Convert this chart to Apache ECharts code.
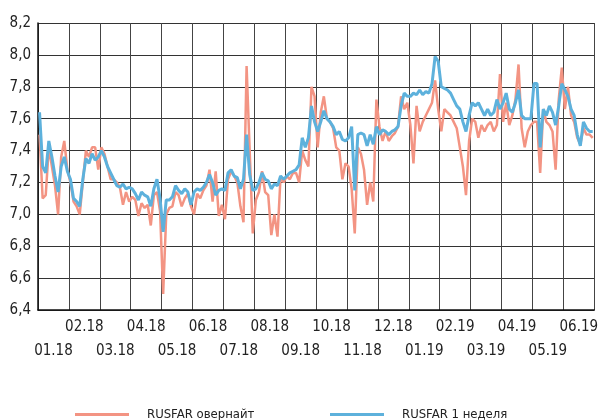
<!DOCTYPE html>
<html>
<head>
<meta charset="utf-8">
<script src="https://cdn.jsdelivr.net/npm/echarts@6/dist/echarts.min.js"></script>
<style>html,body{margin:0;padding:0;background:#fff}#c{width:601px;height:420px}</style>
</head>
<body>
<div id="c"></div>
<script>
var months = ['01.18','02.18','03.18','04.18','05.18','06.18','07.18','08.18','09.18','10.18','11.18','12.18','01.19','02.19','03.19','04.19','05.19','06.19'];
var yTicks = [6.4, 6.6, 6.8, 7.0, 7.2, 7.4, 7.6, 7.8, 8.0, 8.2];
var seriesNames = ['RUSFAR овернайт', 'RUSFAR 1 неделя'];

// RUSFAR overnight, ~10 readings per month
var overnight = [
  7.50, 7.10, 7.12, 7.42, 7.30, 7.18, 7.00, 7.36, 7.46, 7.28,
  7.20, 7.08, 7.05, 7.00, 7.20, 7.40, 7.36, 7.42, 7.42, 7.28,
  7.42, 7.38, 7.30, 7.22, 7.22, 7.20, 7.17, 7.06, 7.14, 7.08,
  7.11, 7.09, 6.99, 7.07, 7.04, 7.06, 6.93, 7.12, 7.14, 7.02,
  6.50, 7.00, 7.04, 7.05, 7.14, 7.12, 7.05, 7.10, 7.13, 7.05,
  7.00, 7.13, 7.10, 7.15, 7.18, 7.28, 7.08, 7.27, 6.99, 7.06,
  6.97, 7.22, 7.27, 7.24, 7.20, 7.05, 6.95, 7.93, 7.40, 6.88,
  7.09, 7.14, 7.27, 7.14, 7.12, 6.87, 7.00, 6.86, 7.24, 7.20,
  7.24, 7.22, 7.26, 7.26, 7.20, 7.40, 7.34, 7.30, 7.80, 7.74,
  7.42, 7.64, 7.74, 7.60, 7.58, 7.54, 7.42, 7.40, 7.22, 7.32,
  7.30, 7.16, 6.88, 7.42, 7.38, 7.28, 7.06, 7.20, 7.08, 7.72,
  7.55, 7.46, 7.52, 7.46, 7.49, 7.51, 7.55, 7.74, 7.66, 7.70,
  7.56, 7.32, 7.68, 7.52, 7.58, 7.62, 7.66, 7.70, 7.84, 7.66,
  7.52, 7.66, 7.64, 7.62, 7.58, 7.54, 7.42, 7.30, 7.12, 7.46,
  7.60, 7.58, 7.48, 7.56, 7.52, 7.56, 7.58, 7.52, 7.56, 7.88,
  7.58, 7.70, 7.56, 7.62, 7.72, 7.94, 7.54, 7.42, 7.52, 7.56,
  7.58, 7.58, 7.26, 7.66, 7.58, 7.56, 7.52, 7.28, 7.72, 7.92,
  7.66, 7.80, 7.62, 7.58, 7.48, 7.44, 7.54, 7.50, 7.50, 7.48
];

// RUSFAR 1 week
var week1 = [
  7.64, 7.30, 7.26, 7.46, 7.36, 7.24, 7.14, 7.30, 7.36, 7.27,
  7.22, 7.10, 7.08, 7.05, 7.22, 7.35, 7.32, 7.38, 7.34, 7.36,
  7.40, 7.36, 7.30, 7.26, 7.22, 7.18, 7.17, 7.19, 7.16, 7.17,
  7.16, 7.13, 7.09, 7.14, 7.12, 7.11, 7.05, 7.16, 7.22, 7.10,
  6.89, 7.09, 7.09, 7.11, 7.18, 7.15, 7.13, 7.16, 7.14, 7.06,
  7.14, 7.16, 7.15, 7.17, 7.20, 7.25, 7.20, 7.12, 7.15, 7.16,
  7.15, 7.26, 7.28, 7.24, 7.23, 7.16, 7.22, 7.50, 7.25, 7.15,
  7.16, 7.20, 7.26, 7.22, 7.21, 7.16, 7.19, 7.18, 7.24, 7.22,
  7.24, 7.26, 7.27, 7.28, 7.31, 7.48, 7.42, 7.48, 7.68, 7.58,
  7.52, 7.58, 7.65, 7.60, 7.58, 7.55, 7.50, 7.52, 7.47, 7.46,
  7.48, 7.55, 7.15, 7.50, 7.51, 7.50, 7.43, 7.50, 7.44, 7.55,
  7.50, 7.53, 7.52, 7.50, 7.52, 7.53, 7.55, 7.68, 7.76, 7.74,
  7.74, 7.76, 7.75, 7.78, 7.75, 7.77, 7.76, 7.82, 7.99, 7.96,
  7.80, 7.79, 7.78, 7.76, 7.72, 7.68, 7.66, 7.58, 7.52, 7.62,
  7.70, 7.68, 7.70, 7.66, 7.62, 7.66, 7.62, 7.64, 7.72, 7.66,
  7.70, 7.76, 7.66, 7.64, 7.70, 7.78, 7.62, 7.60, 7.60, 7.60,
  7.82, 7.82, 7.42, 7.66, 7.62, 7.68, 7.64, 7.56, 7.68, 7.82,
  7.78, 7.74, 7.66, 7.62, 7.50, 7.43, 7.58, 7.54, 7.52, 7.52
];

var FONT = "'DejaVu Sans Condensed', 'Liberation Sans', sans-serif";
var obs = overnight.map(function (_, i) { return i; });

var chart = echarts.init(document.getElementById('c'), null, {renderer: 'canvas'});
chart.setOption({
  animation: false,
  backgroundColor: '#fff',
  grid: {left: 38, right: 3, top: 23, bottom: 110, containLabel: false},
  xAxis: [
    {
      type: 'category', data: months, boundaryGap: true,
      axisLine: {show: true, lineStyle: {color: '#111', width: 1.5}},
      axisTick: {show: false},
      splitLine: {show: true, lineStyle: {color: '#444', width: 1}},
      axisLabel: {
        interval: 0, margin: 5, fontFamily: FONT, fontSize: 15, color: '#222', lineHeight: 24,
        formatter: function (v, i) { return i % 2 === 0 ? '\n' + v : v; }
      }
    },
    {type: 'category', data: obs, boundaryGap: true, show: false}
  ],
  yAxis: {
    type: 'value', min: yTicks[0], max: yTicks[yTicks.length - 1], interval: 0.2,
    axisLine: {show: true, lineStyle: {color: '#111', width: 1.5}},
    axisTick: {show: false},
    splitLine: {show: true, lineStyle: {color: '#333', width: 1}},
    axisLabel: {
      margin: 7, fontFamily: FONT, fontSize: 15, color: '#222',
      formatter: function (v) { return v.toFixed(1).replace('.', ','); }
    }
  },
  legend: [
    {data: [seriesNames[0]], left: 70, top: 403, icon: 'rect', itemWidth: 54, itemHeight: 3,
     textStyle: {fontFamily: FONT, fontSize: 13, color: '#222', padding: [0, 0, 0, 13]}},
    {data: [seriesNames[1]], left: 325, top: 403, icon: 'rect', itemWidth: 54, itemHeight: 3,
     textStyle: {fontFamily: FONT, fontSize: 13, color: '#222', padding: [0, 0, 0, 13]}}
  ],
  series: [
    {name: seriesNames[0], type: 'line', xAxisIndex: 1, data: overnight, symbol: 'none',
     lineStyle: {color: '#F39483', width: 2.5}, itemStyle: {color: '#F39483'}},
    {name: seriesNames[1], type: 'line', xAxisIndex: 1, data: week1, symbol: 'none',
     lineStyle: {color: '#5DB1DC', width: 3}, itemStyle: {color: '#5DB1DC'}}
  ]
});
</script>
</body>
</html>
